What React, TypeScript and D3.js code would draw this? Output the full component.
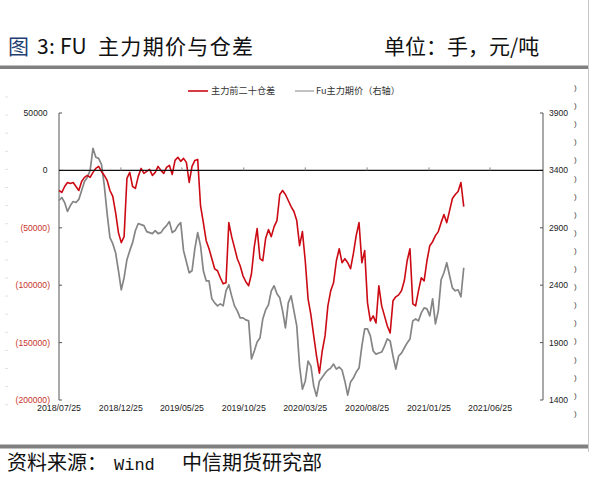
import React from "react";
import * as d3 from "d3";

// ---- data (weekly samples starting 2018-07-25) ----
const START_DATE = "2018-07-25";
const STEP_DAYS = 7;

// 主力前二十仓差 (手), left axis
const oiDiff: number[] = [
  -17500, -19200, -14000, -10500, -11400, -10500, -14000, -17500, -9600, -6100,
  -4400, -6100, -1700, 1700, 3500, -900, -4400, -8700, -17500, -22700,
  -36700, -54200, -62900, -57700, -7000, -1700, -14000, -15700, -5200, 1700,
  -2600, -900, 900, -4400, -1700, 3500, 0, -2600, 2600, 4400,
  -3500, 8700, 11400, 7900, 10500, 7000, -10500, 3500, 8700, 9600,
  -30600, -45500, -61200, -68200, -76900, -85700, -87400, -93500, -98800, -97900,
  -45500, -57700, -67300, -76900, -83000, -91800, -97000, -100500, -90000, -66400,
  -50700, -76900, -78700, -59400, -51600, -57700, -49000, -43700, -21000, -17500,
  -21000, -26200, -31500, -35800, -43700, -65600, -53300, -78700, -111900, -125900,
  -144200, -161700, -176600, -157300, -144200, -118000, -104900, -97900, -78700, -68200,
  -80400, -76900, -80400, -85700, -72500, -56800, -45500, -80400, -69900, -115400,
  -131100, -126700, -132900, -100500, -118000, -126700, -135500, -141600, -113600, -110100,
  -108400, -104900, -96200, -78700, -68200, -116300, -118000, -104900, -93500, -96200,
  -78700, -65600, -62100, -56800, -53300, -45500, -38500, -45500, -35000, -24500,
  -21000, -18400, -10500, -31500,
];

// Fu主力期价 (元/吨), right axis
const fuPrice: number[] = [
  3138, 3164, 3120, 3042, 3094, 3129, 3120, 3147, 3225, 3304,
  3339, 3400, 3592, 3514, 3505, 3452, 3269, 3024, 2814, 2762,
  2683, 2526, 2360, 2465, 2622, 2701, 2771, 2876, 2937, 2928,
  2919, 2867, 2858, 2849, 2876, 2849, 2858, 2893, 2919, 2954,
  2858, 2876, 2919, 2945, 2701, 2605, 2508, 2526, 2718, 2858,
  2744, 2526, 2438, 2438, 2281, 2246, 2220, 2237, 2220, 2351,
  2404, 2307, 2220, 2176, 2115, 2115, 2098, 2089, 1757, 1827,
  1905, 1940, 2106, 2185, 2229, 2351, 2395, 2325, 2290, 2176,
  2028, 2246, 2307, 2176, 2045, 1695, 1494, 1564, 1739, 1695,
  1521, 1433, 1564, 1599, 1634, 1661, 1678, 1713, 1669, 1687,
  1661, 1564, 1442, 1556, 1591, 1643, 1678, 1870, 2019, 2019,
  1958, 1827, 1800, 1809, 1818, 1870, 1932, 1914, 1783, 1669,
  1783, 1809, 1853, 1897, 1932, 2089, 2106, 2089, 2159, 2202,
  2194, 2133, 2281, 2063, 2176, 2447, 2508, 2596, 2482, 2377,
  2351, 2360, 2299, 2552,
];

const leftTicks = [50000, 0, -50000, -100000, -150000, -200000];
const leftTickLabels = ["50000", "0", "(50000)", "(100000)", "(150000)", "(200000)"];
const rightTicks = [3900, 3400, 2900, 2400, 1900, 1400];
const xTickLabels = [
  "2018/07/25", "2018/12/25", "2019/05/25", "2019/10/25",
  "2020/03/25", "2020/08/25", "2021/01/25", "2021/06/25",
];
const seriesNames = ["主力前二十仓差", "Fu主力期价（右轴）"];
const titleText = "主力期价与仓差";
const unitText = "单位：手，元/吨";

const W = 593;
const H = 486;
const PL = 59;
const PR = 543;
const PT = 113;
const PB = 400;

const parse = d3.timeParse("%Y/%m/%d");
const start = d3.timeParse("%Y-%m-%d")(START_DATE) as Date;
const dates = oiDiff.map((_, i) => d3.timeDay.offset(start, i * STEP_DAYS));

const x = d3
  .scaleTime()
  .domain([start, d3.timeParse("%Y-%m-%d")("2021-11-03") as Date])
  .range([PL, PR]);
const yL = d3.scaleLinear().domain([-200000, 50000]).range([PB, PT]);
const yR = d3.scaleLinear().domain([1400, 3900]).range([PB, PT]);

const redLine = d3
  .line<number>()
  .x((_, i) => x(dates[i]))
  .y((d) => yL(d));
const grayLine = d3
  .line<number>()
  .x((_, i) => x(dates[i]))
  .y((d) => yR(d));

const RED = "#cc0a14";
const GRAY = "#858585";
const AX = "Liberation Sans, Arial, sans-serif";
const CJK = "'Noto Sans CJK SC', sans-serif";

export default function App() {
  const parenRows = d3.range(19).map((k) => 87 + k * 18.1);
  const dashRows = d3.range(18).map((k) => 97 + k * 18.1);
  return (
    <svg
      width={W}
      height={H}
      style={{ position: "absolute", left: 0, top: 0, background: "#fff" }}
    >
      <rect x={0} y={0} width={W} height={H} fill="#fff" />
      {/* title */}
      <text x={8} y={54} fontFamily={CJK} fontSize={21} fill="#1f3f73">图</text>
      <text x={37} y={54} fontFamily={CJK} fontSize={21} fill="#111">3</text>
      <text x={49} y={54} fontFamily={CJK} fontSize={21} fill="#111">:</text>
      <text x={60} y={54} fontFamily={CJK} fontSize={21} fill="#111">FU</text>
      <text x={98} y={54} fontFamily={CJK} fontSize={21} fill="#111" textLength={155} lengthAdjust="spacing">{titleText}</text>
      <text x={384} y={54} fontFamily={CJK} fontSize={21} fill="#111">{unitText}</text>
      <rect x={0} y={65.5} width={588} height={3.5} fill="#808080" />
      <line x1={588.5} y1={0} x2={588.5} y2={452} stroke="#c8c8c8" strokeWidth={1} />

      {/* edge artifacts */}
      {parenRows.map((yy, k) => (
        <text key={"p" + k} x={574} y={yy + 3} fontFamily={AX} fontSize={8} fill="#444">)</text>
      ))}
      {dashRows.map((yy, k) => (
        <line key={"d" + k} x1={5} x2={8} y1={yy} y2={yy} stroke="#e2e2e2" strokeWidth={1} />
      ))}

      {/* legend */}
      <line x1={188} x2={208} y1={91} y2={91} stroke={RED} strokeWidth={1.6} />
      <text x={211} y={94} fontFamily={CJK} fontSize={9.2} fill="#333">{seriesNames[0]}</text>
      <line x1={295} x2={314} y1={91} y2={91} stroke={GRAY} strokeWidth={1} />
      <text x={316} y={94} fontFamily={CJK} fontSize={9.2} fill="#333">{seriesNames[1]}</text>

      {/* left axis */}
      <line x1={PL} x2={PL} y1={PT} y2={PB} stroke="#555" strokeWidth={1} />
      {leftTicks.map((t, k) => (
        <g key={"l" + k}>
          <line x1={PL} x2={PL + 3} y1={yL(t)} y2={yL(t)} stroke="#555" />
          <text
            x={t < 0 ? 50 : 47.5}
            y={yL(t) + 3}
            textAnchor="end"
            fontFamily={AX}
            fontSize={8.6}
            fill={t < 0 ? "#c8342c" : "#222"}
          >
            {leftTickLabels[k]}
          </text>
        </g>
      ))}

      {/* right axis */}
      <line x1={PR} x2={PR} y1={PT} y2={PB} stroke="#555" strokeWidth={1} />
      {rightTicks.map((t, k) => (
        <g key={"r" + k}>
          <line x1={PR - 3} x2={PR} y1={yR(t)} y2={yR(t)} stroke="#555" />
          <text x={549} y={yR(t) + 3} fontFamily={AX} fontSize={8.6} fill="#222">
            {t}
          </text>
        </g>
      ))}

      {/* series */}
      <path d={grayLine(fuPrice) ?? ""} fill="none" stroke={GRAY} strokeWidth={1.7} strokeLinejoin="round" />
      <path d={redLine(oiDiff) ?? ""} fill="none" stroke={RED} strokeWidth={1.6} strokeLinejoin="round" />

      {/* zero line / category axis */}
      <line x1={PL} x2={PR} y1={yL(0)} y2={yL(0)} stroke="#111" strokeWidth={1.2} />
      {xTickLabels.map((s, k) => {
        const xx = x(parse(s) as Date);
        return (
          <g key={"x" + k}>
            {k > 0 && <line x1={xx} x2={xx} y1={yL(0) - 3} y2={yL(0)} stroke="#888" />}
            <text x={xx} y={411} textAnchor="middle" fontFamily={AX} fontSize={8.8} fill="#222">
              {s}
            </text>
          </g>
        );
      })}

      {/* source */}
      <rect x={0} y={444.5} width={588} height={4} fill="#808080" />
      <text x={7} y={470} fontFamily={CJK} fontSize={20} fill="#111">资料来源：</text>
      <text x={114} y={470} fontFamily="'Liberation Mono', monospace" fontSize={17} fill="#111">Wind</text>
      <text x={182} y={470} fontFamily={CJK} fontSize={20} fill="#111">中信期货研究部</text>
    </svg>
  );
}
